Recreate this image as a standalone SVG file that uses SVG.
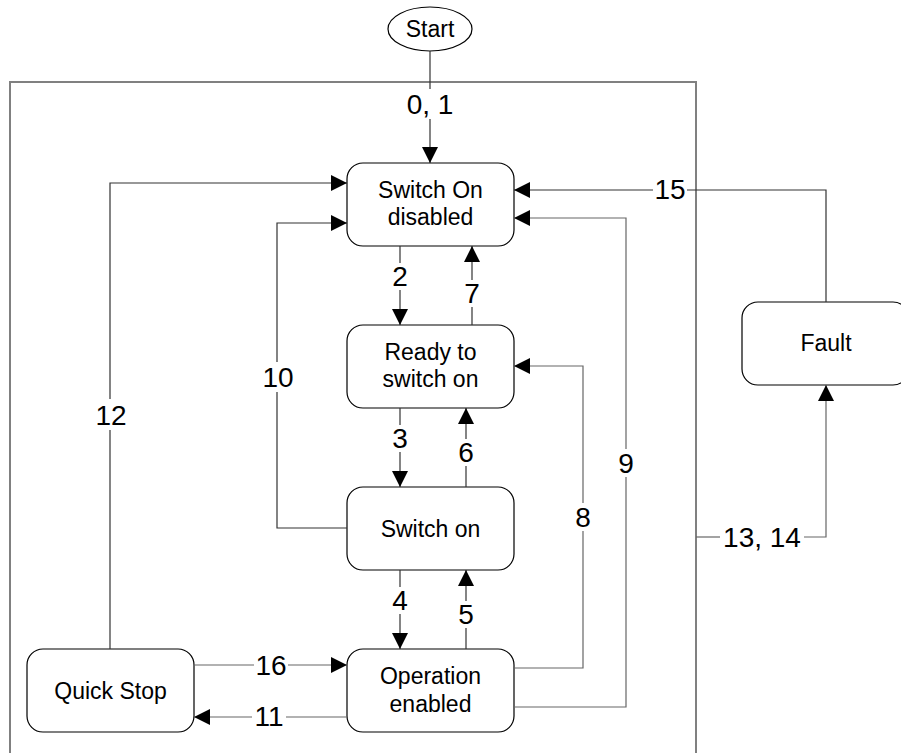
<svg xmlns="http://www.w3.org/2000/svg" width="901" height="753" viewBox="0 0 901 753">
<style>
.node rect{fill:#fff;stroke:#000;stroke-width:1.2}
.node text{font-family:"Liberation Sans",Arial,sans-serif;font-size:23px;text-anchor:middle;fill:#000}
.lbl{font-family:"Liberation Sans",Arial,sans-serif;font-size:28px;text-anchor:middle;fill:#000}
.c{fill:none;stroke:#333;stroke-width:1.2}
.g{stroke:#666}
.frame{fill:none;stroke:#808080;stroke-width:2}
</style>
<defs>
<marker id="ah" markerUnits="userSpaceOnUse" markerWidth="17" markerHeight="16" refX="16" refY="8" orient="auto">
<path d="M0,0 L16,8 L0,16 z" fill="#000"/>
</marker>
</defs>
<path class="frame" d="M10,753 V82 H696 V753"/>
<g id="start" class="node">
<ellipse cx="430" cy="29" rx="42" ry="22" fill="#fff" stroke="#000" stroke-width="1.2"/>
<text x="430" y="37">Start</text>
</g>
<g id="switch-on-disabled" class="node">
<rect x="347" y="163" width="167" height="83" rx="16"/>
<text x="430.5" y="198">Switch On</text>
<text x="430.5" y="225">disabled</text>
</g>
<g id="ready" class="node">
<rect x="347" y="325" width="167" height="83" rx="16"/>
<text x="430.5" y="360">Ready to</text>
<text x="430.5" y="387">switch on</text>
</g>
<g id="switch-on" class="node">
<rect x="347" y="487" width="167" height="83" rx="16"/>
<text x="430.5" y="537">Switch on</text>
</g>
<g id="operation-enabled" class="node">
<rect x="347" y="649" width="167" height="83" rx="16"/>
<text x="430.5" y="684">Operation</text>
<text x="430.5" y="712">enabled</text>
</g>
<g id="quick-stop" class="node">
<rect x="27" y="649" width="167" height="83" rx="16"/>
<text x="110.5" y="699">Quick Stop</text>
</g>
<g id="fault" class="node">
<rect x="742" y="302" width="167" height="83" rx="16"/>
<text x="826" y="351">Fault</text>
</g>
<g id="connectors">
<path class="c" d="M430,51 V89"/>
<path class="c" d="M430,119 V163" marker-end="url(#ah)"/>
<text class="lbl" x="430" y="114">0, 1</text>

<path class="c" d="M400,246 V263"/>
<path class="c" d="M400,290 V325" marker-end="url(#ah)"/>
<text class="lbl" x="400" y="286">2</text>

<path class="c" d="M472,325 V307"/>
<path class="c" d="M472,280 V246" marker-end="url(#ah)"/>
<text class="lbl" x="472" y="303">7</text>

<path class="c" d="M400,408 V425"/>
<path class="c" d="M400,452 V487" marker-end="url(#ah)"/>
<text class="lbl" x="400" y="448">3</text>

<path class="c" d="M466,487 V466"/>
<path class="c" d="M466,439 V408" marker-end="url(#ah)"/>
<text class="lbl" x="466" y="462">6</text>

<path class="c" d="M400,570 V587"/>
<path class="c" d="M400,614 V649" marker-end="url(#ah)"/>
<text class="lbl" x="400" y="610">4</text>

<path class="c" d="M466,649 V628"/>
<path class="c" d="M466,601 V570" marker-end="url(#ah)"/>
<text class="lbl" x="466" y="624">5</text>

<path class="c" d="M110,649 V430"/>
<path class="c" d="M110,399 V183 H347" marker-end="url(#ah)"/>
<text class="lbl" x="111" y="425">12</text>

<path class="c" d="M347,528 H277 V392"/>
<path class="c" d="M277,362 V223 H347" marker-end="url(#ah)"/>
<text class="lbl" x="278" y="387">10</text>

<path class="c g" d="M514,668 H583 V531"/>
<path class="c g" d="M583,503 V366 H514" marker-end="url(#ah)"/>
<text class="lbl" x="583" y="527">8</text>

<path class="c g" d="M514,707 H626 V477"/>
<path class="c g" d="M626,449 V218 H514" marker-end="url(#ah)"/>
<text class="lbl" x="626" y="473">9</text>

<path class="c" d="M826,302 V190 H687"/>
<path class="c" d="M653,190 H514" marker-end="url(#ah)"/>
<text class="lbl" x="670" y="199">15</text>

<path class="c g" d="M696,537 H720"/>
<path class="c g" d="M804,537 H826 V385" marker-end="url(#ah)"/>
<text class="lbl" x="762" y="547">13, 14</text>

<path class="c g" d="M194,665 H254"/>
<path class="c g" d="M288,665 H347" marker-end="url(#ah)"/>
<text class="lbl" x="271" y="675">16</text>

<path class="c g" d="M347,717 H286"/>
<path class="c g" d="M252,717 H194" marker-end="url(#ah)"/>
<text class="lbl" x="269" y="726">11</text>
</g>
</svg>
